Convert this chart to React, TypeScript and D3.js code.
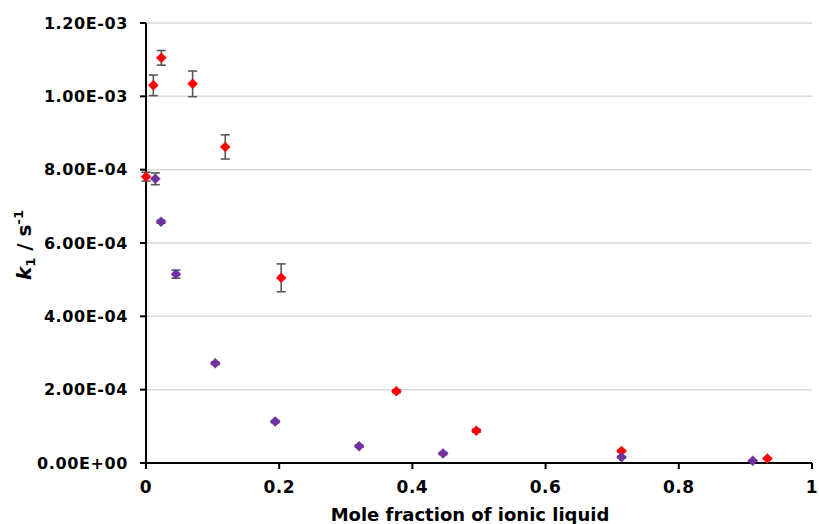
import React from "react";
import * as d3 from "d3";

// ---- data ----
const redX = [0.0, 0.011, 0.023, 0.070, 0.119, 0.203, 0.376, 0.496, 0.714, 0.933];
const redY = [7.81e-4, 1.030e-3, 1.105e-3, 1.034e-3, 8.62e-4, 5.05e-4, 1.96e-4, 8.8e-5, 3.3e-5, 1.2e-5];
const redErr = [1.2e-5, 2.8e-5, 2.0e-5, 3.5e-5, 3.3e-5, 3.8e-5, 4e-6, 4e-6, 2e-6, 1e-6];

const purpleX = [0.014, 0.0225, 0.045, 0.104, 0.194, 0.320, 0.446, 0.714, 0.911];
const purpleY = [7.75e-4, 6.58e-4, 5.15e-4, 2.72e-4, 1.13e-4, 4.6e-5, 2.6e-5, 1.6e-5, 6e-6];
const purpleErr = [1.6e-5, 4e-6, 1.1e-5, 3e-6, 3e-6, 3e-6, 3e-6, 2e-6, 1e-6];

const xTicks = [0, 0.2, 0.4, 0.6, 0.8, 1];
const xTickLabels = ["0", "0.2", "0.4", "0.6", "0.8", "1"];
const yTicks = [0, 2e-4, 4e-4, 6e-4, 8e-4, 1e-3, 1.2e-3];
const yTickLabels = ["0.00E+00", "2.00E-04", "4.00E-04", "6.00E-04", "8.00E-04", "1.00E-03", "1.20E-03"];

const xTitle = "Mole fraction of ionic liquid";

const W = 819;
const H = 524;
const left = 146;
const right = 812;
const top = 23;
const bottom = 463;
const FONT = "'DejaVu Sans', Verdana, sans-serif";

export default function App() {
  const x = d3.scaleLinear().domain([0, 1]).range([left, right]);
  const y = d3.scaleLinear().domain([0, 1.2e-3]).range([bottom, top]);
  const diamond = (r: number) => `M0,${-r}L${r},0L0,${r}L${-r},0Z`;

  const series = [
    { xs: redX, ys: redY, errs: redErr, color: "#ff0000" },
    { xs: purpleX, ys: purpleY, errs: purpleErr, color: "#7030a0" },
  ];

  return (
    <svg
      width={W}
      height={H}
      style={{ position: "absolute", left: 0, top: 0, background: "#fff" }}
    >
      <rect x={0} y={0} width={W} height={H} fill="#fff" />
      {yTicks.filter((t) => t > 0).map((t, i) => (
        <line
          key={"g" + i}
          x1={left}
          x2={right}
          y1={y(t)}
          y2={y(t)}
          stroke="#d9d9d9"
          strokeWidth={1.5}
        />
      ))}
      <line x1={left} x2={left} y1={top} y2={bottom + 1} stroke="#000" strokeWidth={2} />
      <line x1={left - 1} x2={right} y1={bottom} y2={bottom} stroke="#000" strokeWidth={2} />
      {yTicks.map((t, i) => (
        <g key={"yt" + i}>
          <line x1={left - 6} x2={left} y1={y(t)} y2={y(t)} stroke="#000" strokeWidth={2} />
          <text
            x={left - 18}
            y={y(t)}
            dy="0.36em"
            textAnchor="end"
            fontFamily={FONT}
            fontWeight="bold"
            fontSize={16}
            letterSpacing={0.6}
            fill="#000"
          >
            {yTickLabels[i]}
          </text>
        </g>
      ))}
      {xTicks.map((t, i) => (
        <g key={"xt" + i}>
          <line x1={x(t)} x2={x(t)} y1={bottom} y2={bottom + 6} stroke="#000" strokeWidth={2} />
          <text
            x={x(t)}
            y={493}
            textAnchor="middle"
            fontFamily={FONT}
            fontWeight="bold"
            fontSize={17}
            letterSpacing={0.5}
            fill="#000"
          >
            {xTickLabels[i]}
          </text>
        </g>
      ))}
      <text
        x={470}
        y={521}
        textAnchor="middle"
        fontFamily={FONT}
        fontWeight="bold"
        fontSize={18}
        fill="#000"
      >
        {xTitle}
      </text>
      <text
        transform={`translate(31,245) rotate(-90)`}
        textAnchor="middle"
        fontFamily={FONT}
        fontWeight="bold"
        fontSize={20}
        fill="#000"
      >
        <tspan fontStyle="italic">k</tspan>
        <tspan fontSize={13} dy={4}>1</tspan>
        <tspan dy={-4}> / s</tspan>
        <tspan fontSize={13} dy={-8}>-1</tspan>
      </text>
      {series.map((s, si) => (
        <g key={"s" + si}>
          {s.xs.map((xv, i) => {
            const cx = x(xv);
            const y1 = y(s.ys[i] + s.errs[i]);
            const y2 = y(s.ys[i] - s.errs[i]);
            return (
              <g key={"e" + i} stroke="#595959" strokeWidth={1.6}>
                <line x1={cx} x2={cx} y1={y1} y2={y2} />
                <line x1={cx - 4.5} x2={cx + 4.5} y1={y1} y2={y1} />
                <line x1={cx - 4.5} x2={cx + 4.5} y1={y2} y2={y2} />
              </g>
            );
          })}
          {s.xs.map((xv, i) => (
            <path
              key={"m" + i}
              d={diamond(5)}
              transform={`translate(${x(xv)},${y(s.ys[i])})`}
              fill={s.color}
              stroke={s.color}
              strokeWidth={0.5}
            />
          ))}
        </g>
      ))}
    </svg>
  );
}
